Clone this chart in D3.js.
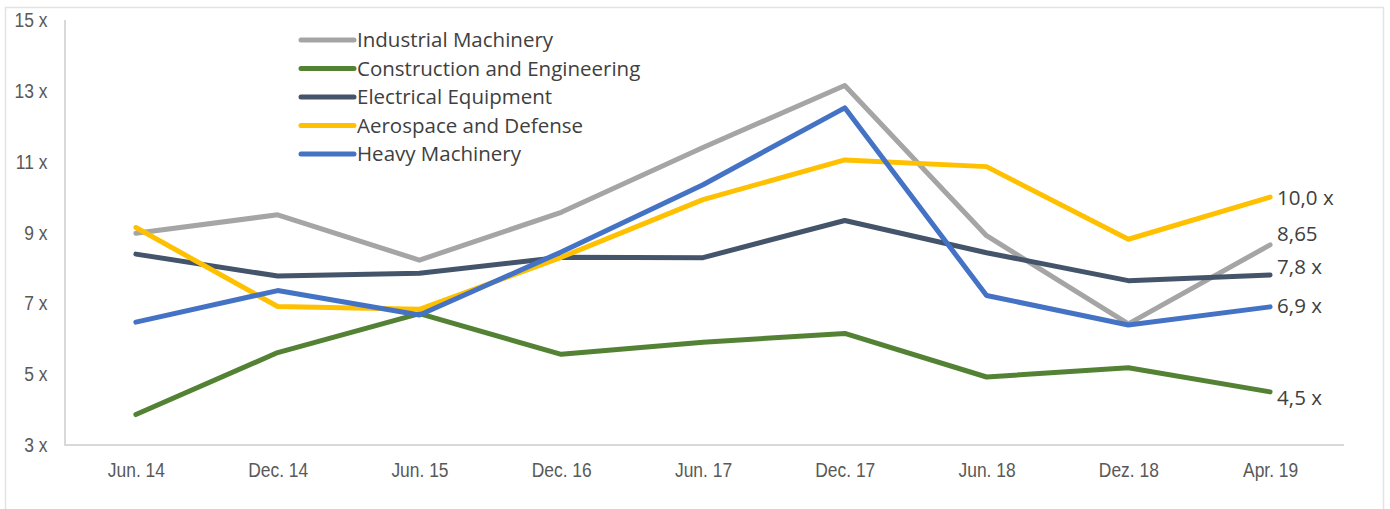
<!DOCTYPE html>
<html>
<head>
<meta charset="utf-8">
<script src="https://cdn.jsdelivr.net/npm/d3@7"></script>
<style>
  body { margin: 0; background: #fff; }
  svg { display: block; }
  .tick text { font-family: "Liberation Sans", Arial, sans-serif; font-size: 20.5px; fill: #595959; }
  .legend text, .endlabel { font-family: "Open Sans", "Noto Sans", sans-serif; fill: #404040; }
</style>
</head>
<body>
<svg id="chart" width="1390" height="509"></svg>
<script>
'use strict';

// data
var periods = ['Jun. 14', 'Dec. 14', 'Jun. 15', 'Dec. 16', 'Jun. 17', 'Dec. 17', 'Jun. 18', 'Dez. 18', 'Apr. 19'];

var industrial   = [8.98, 9.5, 8.22, 9.57, 11.4, 13.15, 8.91, 6.42, 8.65];
var construction = [3.86, 5.61, 6.71, 5.56, 5.9, 6.15, 4.92, 5.18, 4.5];
var electrical   = [8.39, 7.77, 7.85, 8.3, 8.29, 9.34, 8.43, 7.64, 7.8];
var aerospace    = [9.14, 6.91, 6.83, 8.3, 9.93, 11.05, 10.86, 8.81, 10.0];
var heavy        = [6.47, 7.36, 6.67, 8.45, 10.35, 12.52, 7.22, 6.39, 6.9];

var seriesNames = ['Industrial Machinery', 'Construction and Engineering', 'Electrical Equipment', 'Aerospace and Defense', 'Heavy Machinery'];
var endLabels   = ['8,65', '4,5 x', '7,8 x', '10,0 x', '6,9 x'];
var yTicks      = [3, 5, 7, 9, 11, 13, 15];

// styling
var colors   = ['#A5A5A5', '#548235', '#44546A', '#FFC000', '#4472C4'];
var labelDy  = [-11, 6, -8, 1, -1];

var values = [industrial, construction, electrical, aerospace, heavy];
var series = seriesNames.map(function(name, i){
  return { name: name, values: values[i], color: colors[i], label: endLabels[i], dy: labelDy[i] };
});

var svg = d3.select('#chart');

// outer frame
svg.append('rect')
   .attr('x', 5.5).attr('y', 7.5)
   .attr('width', 1378).attr('height', 510)
   .attr('fill', 'none')
   .attr('stroke', '#E3E3E3')
   .attr('stroke-width', 1.5);

var x = d3.scalePoint()
  .domain(periods)
  .range([65, 1341])
  .padding(0.5);

var y = d3.scaleLinear()
  .domain([3, 15])
  .range([445, 20]);

// axes, condensed labels like the original
var xAxis = svg.append('g')
  .attr('transform', 'translate(0,445)')
  .call(d3.axisBottom(x).tickSize(0).tickPadding(17));
xAxis.select('.domain').remove();
xAxis.selectAll('.tick text')
  .attr('dy', '0.71em')
  .attr('transform', 'scale(0.85,1)');

var yAxis = svg.append('g')
  .attr('transform', 'translate(50,0)')
  .call(d3.axisLeft(y).tickValues(yTicks).tickSize(0).tickPadding(3).tickFormat(function(d){ return d + ' x'; }));
yAxis.select('.domain').remove();
yAxis.selectAll('.tick text')
  .attr('transform', 'scale(0.85,1)');

svg.append('line')
   .attr('x1', 65).attr('x2', 65)
   .attr('y1', y(15)).attr('y2', y(3))
   .attr('stroke', '#D9D9D9').attr('stroke-width', 2);

svg.append('line')
   .attr('x1', 64).attr('x2', 1344)
   .attr('y1', y(3)).attr('y2', y(3))
   .attr('stroke', '#D9D9D9').attr('stroke-width', 2);

// lines
var line = d3.line()
  .x(function(d, i){ return x(periods[i]); })
  .y(function(d){ return y(d); });

svg.append('g').selectAll('path')
  .data(series)
  .enter().append('path')
    .attr('d', function(s){ return line(s.values); })
    .attr('fill', 'none')
    .attr('stroke', function(s){ return s.color; })
    .attr('stroke-width', 5)
    .attr('stroke-linejoin', 'round')
    .attr('stroke-linecap', 'round');

// end labels
var last = periods[periods.length - 1];
svg.append('g').selectAll('text')
  .data(series)
  .enter().append('text')
    .attr('class', 'endlabel')
    .attr('x', x(last) + 7)
    .attr('y', function(s){ return y(s.values[s.values.length - 1]) + s.dy; })
    .attr('dy', '0.35em')
    .style('font-size', '20.5px')
    .text(function(s){ return s.label; });

// legend
var legend = svg.append('g')
  .attr('class', 'legend')
  .attr('transform', 'translate(301,40)');

var item = legend.selectAll('g')
  .data(series)
  .enter().append('g')
    .attr('transform', function(s, i){ return 'translate(0,' + (i * 28.5) + ')'; });

item.append('line')
  .attr('x1', 0).attr('x2', 53)
  .attr('stroke', function(s){ return s.color; })
  .attr('stroke-width', 5)
  .attr('stroke-linecap', 'round');

item.append('text')
  .attr('x', 56)
  .attr('dy', '0.35em')
  .style('font-size', '20.5px')
  .text(function(s){ return s.name; });
</script>
</body>
</html>
